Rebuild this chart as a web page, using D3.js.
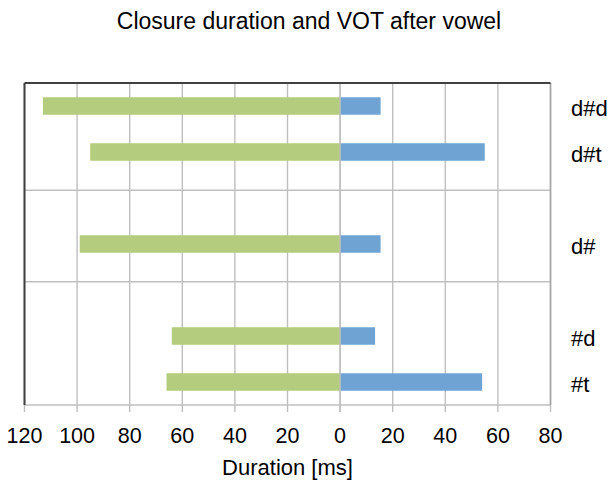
<!DOCTYPE html>
<meta charset="utf-8">
<script src="https://d3js.org/d3.v7.min.js"></script>
<style>
  body { margin: 0; background: #fff; }
  text { font-family: "Liberation Sans", Arial, sans-serif; fill: #000; }
</style>
<svg id="chart" width="609" height="480"></svg>
<script>

// data
const categories = ["d#d", "d#t", "d#", "#d", "#t"];
const slots = [0, 1, 3, 5, 6];            // row of each category (7 rows, 2 left empty)
const closure = [113, 95, 99, 64, 66];     // ms, drawn to the left
const vot = [15.4, 55, 15.4, 13.3, 54];    // ms, drawn to the right
const separators = [2.33, 4.32];           // horizontal divider lines, in row units
const xTicks = [-120, -100, -80, -60, -40, -20, 0, 20, 40, 60, 80];

const svg = d3.select("#chart");
const plotL = 24.5, plotR = 550.5, plotT = 83, plotB = 405;

const x = d3.scaleLinear().domain([-120, 80]).range([plotL, plotR]);
const y = d3.scaleLinear().domain([0, 7]).range([plotT, plotB]);
const barH = 17.5;

// title
svg.append("text")
  .attr("x", 309).attr("y", 29)
  .attr("text-anchor", "middle")
  .style("font-size", "23px")
  .text("Closure duration and VOT after vowel");

// vertical gridlines
svg.append("g")
  .selectAll("line")
  .data(xTicks)
  .join("line")
    .attr("x1", d => x(d)).attr("x2", d => x(d))
    .attr("y1", plotT).attr("y2", plotB + 7)
    .attr("stroke", "#bfbfbf")
    .attr("stroke-width", 1.4);

// horizontal separators
svg.append("g")
  .selectAll("line")
  .data(separators)
  .join("line")
    .attr("x1", plotL).attr("x2", plotR)
    .attr("y1", d => y(d)).attr("y2", d => y(d))
    .attr("stroke", "#bfbfbf")
    .attr("stroke-width", 1.4);

// bottom axis line
svg.append("line")
  .attr("x1", plotL).attr("x2", plotR)
  .attr("y1", plotB).attr("y2", plotB)
  .attr("stroke", "#bfbfbf").attr("stroke-width", 1.6);

// right border
svg.append("line")
  .attr("x1", plotR).attr("x2", plotR)
  .attr("y1", plotT).attr("y2", plotB)
  .attr("stroke", "#a6a6a6").attr("stroke-width", 1.6);

// bars: closure (green, left of 0)
svg.append("g")
  .selectAll("rect")
  .data(categories)
  .join("rect")
    .attr("x", (d, i) => x(-closure[i]))
    .attr("width", (d, i) => x(0) - x(-closure[i]))
    .attr("y", (d, i) => y(slots[i] + 0.5) - barH / 2)
    .attr("height", barH)
    .attr("fill", "#b3cc7e");

// bars: VOT (blue, right of 0)
svg.append("g")
  .selectAll("rect")
  .data(categories)
  .join("rect")
    .attr("x", x(0))
    .attr("width", (d, i) => x(vot[i]) - x(0))
    .attr("y", (d, i) => y(slots[i] + 0.5) - barH / 2)
    .attr("height", barH)
    .attr("fill", "#6fa3d3");

// zero line over bars
svg.append("line")
  .attr("x1", x(0)).attr("x2", x(0))
  .attr("y1", plotT).attr("y2", plotB + 7)
  .attr("stroke", "#bfbfbf").attr("stroke-width", 1.4);

// top and left dark borders
svg.append("line")
  .attr("x1", plotL).attr("x2", plotR)
  .attr("y1", plotT).attr("y2", plotT)
  .attr("stroke", "#404040").attr("stroke-width", 2);
svg.append("line")
  .attr("x1", plotL).attr("x2", plotL)
  .attr("y1", plotT).attr("y2", plotB)
  .attr("stroke", "#404040").attr("stroke-width", 2);

// x tick labels
svg.append("g")
  .selectAll("text")
  .data(xTicks)
  .join("text")
    .attr("x", d => x(d))
    .attr("y", 443)
    .attr("text-anchor", "middle")
    .style("font-size", "21.5px")
    .text(d => Math.abs(d));

// x axis title
svg.append("text")
  .attr("x", (plotL + plotR) / 2).attr("y", 475)
  .attr("text-anchor", "middle")
  .style("font-size", "22px")
  .text("Duration [ms]");

// category labels on the right
svg.append("g")
  .selectAll("text")
  .data(categories)
  .join("text")
    .attr("x", 571)
    .attr("y", (d, i) => y(slots[i] + 0.5) + 10)
    .style("font-size", "22px")
    .text(d => d);

</script>
